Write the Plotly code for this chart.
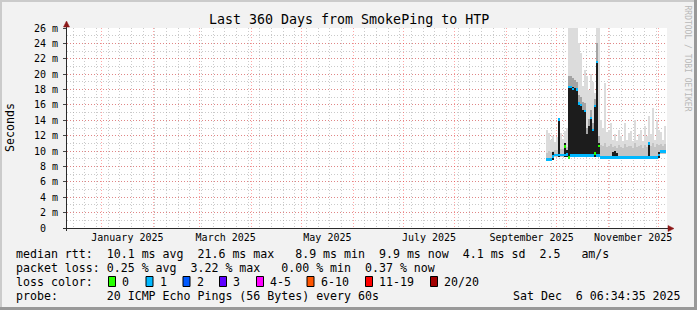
import numpy as np
import pandas as pd
import plotly.graph_objects as go

# ---------------- data ----------------
RANGE_START = "2024-12-11 06:34:35"
RANGE_END = "2025-12-06 06:34:35"
FIRST_BIN_CENTER = "2025-09-25 06:34:35"
BIN_MINUTES = 1728  # 1.2 days per bin

N = None
floor_ms = [8.75, 8.75, 8.75, 8.8, 9.2, 9.2, 9.2, 9.2, 9.2, 9.2,
            9.2, 9.25, 9.25, 9.25, 9.25, 9.25, 9.25, 9.25, 9.25, 9.25,
            9.25, 9.25, 9.25, 9.25, 9.25, 9.25, 9.25, 8.95, 8.95, 8.95,
            8.95, 8.95, 8.95, 8.95, 8.95, 8.95, 8.95, 8.95, 8.95, 8.95,
            8.95, 8.95, 8.95, 8.95, 8.95, 8.95, 8.95, 8.95, 8.95, 8.95,
            8.95, 8.95, 8.95, 8.95, 8.95, 8.95, 9.1, 9.6, 9.6, 9.6]
# highest single pings (thin spikes)
smoke_max_ms = [12.8, 12.4, N, 12.0, N, 11.8, 14.3, 12.4, N, 12.6,
                13.0, 26, 26, 26, 26, 26, 24.0, 22.8, N, 20.6,
                19.8, N, 20.0, 19.0, N, 26, 26, 14.1, 13.0, 18.9,
                12.5, 12.8, 13.7, N, 12.2, N, 12.8, 12.0, N, 13.7,
                N, 12.3, 12.6, N, 14.1, N, 12.2, 12.8, N, 13.3,
                12.0, 14.5, 12.2, 15.6, N, 14.1, 12.8, 12.5, N, 13.3]
# outer smoke envelope
smoke_upper_ms = [11.5, 11.8, 11.5, 11.3, 11.2, 11.0, 12.0, 11.8, 11.6, 11.8,
                  12.0, 21.0, 21.5, 21.0, 20.5, 20.0, 19.5, 19.0, 18.5, 18.5,
                  17.5, 18.0, 18.0, 17.0, 17.5, 23.0, 14.0, 11.8, 11.6, 11.9,
                  11.5, 11.6, 11.8, 11.4, 11.5, 11.3, 11.6, 11.4, 11.3, 11.7,
                  11.4, 11.5, 11.6, 11.3, 11.8, 11.4, 11.5, 11.6, 11.3, 11.6,
                  11.4, 11.9, 11.5, 11.8, 11.4, 11.7, 11.6, 11.7, 11.5, 11.7]
smoke_mid_ms = [9.8, 10.0, 9.9, 10.0, 10.2, 10.2, 10.8, 10.3, 10.3, 10.5,
                10.5, 13.0, 13.0, 13.0, 13.0, 13.0, 12.5, 12.5, 12.0, 12.0,
                11.5, 12.0, 12.0, 11.5, 12.0, 13.0, 12.0, 10.8, 10.6, 11.0,
                10.5, 10.7, 10.9, 10.5, 10.6, 10.4, 10.8, 10.5, 10.4, 10.9,
                10.5, 10.6, 10.7, 10.4, 11.0, 10.5, 10.6, 10.8, 10.4, 10.8,
                10.5, 11.2, 10.6, 11.0, 10.5, 10.9, 10.8, 10.9, 10.7, 10.9]
smoke_dark_ms = [N, N, N, N, N, N, N, N, N, N,
                 N, 19.8, 19.8, 19.5, 19.2, 19.0, 17.3, 17.0, 16.4, 16.2,
                 13.0, 14.2, 15.3, 13.6, 16.8, 24.0, 12.0, N, N, N,
                 N, N, N, N, N, N, N, N, N, N,
                 N, N, N, N, N, N, N, N, N, N,
                 N, N, N, N, N, N, N, N, N, N]
smoke_core_ms = [N, N, N, 9.9, N, N, 14.2, N, N, 11.1,
                 10.2, 18.4, 18.4, 18.3, 18.2, 18.0, 16.3, 16.0, 15.4, 15.2,
                 12.2, 13.2, 14.4, 12.8, 15.9, 21.7, 11.0, N, N, N,
                 N, N, N, 9.9, 10.0, 9.8, N, N, N, N,
                 N, N, N, N, N, N, N, N, N, N,
                 N, 11.1, N, N, N, N, 9.9, N, N, N]
median_ms = [8.9, 8.9, 8.9, 9.3, 9.5, 9.5, 9.5, 9.5, 9.5, 9.5,
             9.6, 9.2, 9.4, 9.4, 9.4, 9.4, 9.4, 9.4, 9.4, 9.4,
             9.4, 9.4, 9.4, 9.4, 9.7, 9.4, 9.4, 9.15, 9.15, 9.15,
             9.15, 9.15, 9.15, 9.15, 9.15, 9.15, 9.15, 9.15, 9.15, 9.15,
             9.15, 9.15, 9.15, 9.15, 9.15, 9.15, 9.15, 9.15, 9.15, 9.15,
             9.15, 9.15, 9.15, 9.15, 9.15, 9.15, 9.5, 9.9, 9.9, 9.9]
median_loss = [1, 1, 1, 1, 1, 1, 1, 1, 1, 1,
               1, 0, 1, 1, 1, 1, 1, 1, 1, 1,
               1, 1, 1, 1, 0, 1, 1, 1, 1, 1,
               1, 1, 1, 1, 1, 1, 1, 1, 1, 1,
               1, 1, 1, 1, 1, 1, 1, 1, 1, 1,
               1, 1, 1, 1, 1, 1, 1, 1, 1, 1]
peak_ms = [N, N, N, N, N, N, 14.1, N, N, 10.6,
           N, 18.3, 18.3, 18.1, N, 18.0, 16.2, 16.0, N, 15.2,
           N, N, 14.3, 12.7, 15.9, 21.6, 10.7, N, N, N,
           N, N, N, N, N, N, N, N, N, N,
           N, N, N, N, N, N, N, N, N, N,
           N, 11.0, N, N, N, N, N, N, N, N]
peak_loss = [1, 1, 1, 1, 1, 1, 1, 1, 1, 0,
             1, 1, 1, 1, 1, 1, 1, 1, 1, 1,
             1, 1, 1, 1, 1, 1, 0, 1, 1, 1,
             1, 1, 1, 1, 1, 1, 1, 1, 1, 1,
             1, 1, 1, 1, 1, 1, 1, 1, 1, 1,
             1, 1, 1, 1, 1, 1, 1, 1, 1, 1]

LOSS_LABELS = ["0", "1", "2", "3", "4-5", "6-10", "11-19", "20/20"]
LOSS_COLORS = ["#26ff00", "#00b8ff", "#0059ff", "#5e00ff", "#ff00ff", "#ff5500", "#ff0000", "#a10000"]

Y_TICKS = [0, 2, 4, 6, 8, 10, 12, 14, 16, 18, 20, 22, 24, 26]
Y_TICK_TEXT = ["0  ", "2 m", "4 m", "6 m", "8 m", "10 m", "12 m", "14 m", "16 m",
               "18 m", "20 m", "22 m", "24 m", "26 m"]
MONTH_LABEL_DATES = ["2025-01-16 12:00", "2025-03-16 12:00", "2025-05-16 12:00",
                     "2025-07-16 12:00", "2025-09-16", "2025-11-16"]

TITLE = "Last 360 Days from SmokePing to HTP"
LEGEND_RTT = "median rtt:  10.1 ms avg  21.6 ms max   8.9 ms min  9.9 ms now  4.1 ms sd  2.5   am/s"
LEGEND_LOSS = "packet loss: 0.25 % avg  3.22 % max   0.00 % min  0.37 % now"
LEGEND_PROBE = "probe:       20 ICMP Echo Pings (56 Bytes) every 60s"
STAMP = "Sat Dec  6 06:34:35 2025"

# ---------------- geometry helpers ----------------
W, H = 697, 310
ML, MR, MT, MB = 67, 30, 28, 82
PW, PH = W - ML - MR, H - MT - MB


def px(x):
    return (x - ML) / PW


def py(y):
    return (H - MB - y) / PH


def nb(s):
    return s.replace(" ", "\u00a0")


MONO = "DejaVu Sans Mono"


def arr(v):
    return np.array([np.nan if a is None else a for a in v], dtype=float)


fl = arr(floor_ms)
times = pd.date_range(FIRST_BIN_CENTER, periods=len(floor_ms), freq=f"{BIN_MINUTES}min")
BW = BIN_MINUTES * 60 * 1000

fig = go.Figure()


def band(top, color, wfrac):
    t = arr(top)
    fig.add_trace(go.Bar(x=times, y=t - fl, base=fl, width=BW * wfrac, marker_color=color,
                         marker_line_width=0, opacity=1, hoverinfo="skip", showlegend=False))


band(smoke_max_ms, "#dcdcdc", 0.5)
band(smoke_upper_ms, "#dcdcdc", 1.04)
band(smoke_mid_ms, "#c4c4c4", 1.04)
band(smoke_dark_ms, "#a4a4a4", 0.8)
band(smoke_core_ms, "#1c1c1c", 0.8)

med = arr(median_ms)
fig.add_trace(go.Bar(x=times, y=np.full(len(med), 0.36), base=med - 0.18, width=BW * 1.04,
                     marker_color=[LOSS_COLORS[i] for i in median_loss], marker_line_width=0,
                     opacity=1, hoverinfo="skip", showlegend=False))
pk = arr(peak_ms)
fig.add_trace(go.Bar(x=times, y=np.where(np.isnan(pk), np.nan, 0.3), base=pk - 0.15, width=BW * 0.8,
                     marker_color=[LOSS_COLORS[i] for i in peak_loss], marker_line_width=0,
                     opacity=1, hoverinfo="skip", showlegend=False))

# dummy trace for label axis
fig.add_trace(go.Scatter(x=[RANGE_START, RANGE_END], y=[None, None], xaxis="x2", yaxis="y",
                         mode="lines", showlegend=False, hoverinfo="skip"))

MAJ = "rgba(255,40,40,0.42)"
MIN = "rgba(150,150,150,0.5)"
DASH = "1px,2px"

fig.update_layout(
    width=W, height=H,
    margin=dict(l=ML, r=MR, t=MT, b=MB, pad=0),
    paper_bgcolor="#f2f2f2", plot_bgcolor="#ffffff",
    barmode="overlay", bargap=0, showlegend=False,
    font=dict(family=MONO, size=10, color="#000000"),
    xaxis=dict(type="date", range=[RANGE_START, RANGE_END], showticklabels=False, ticks="",
               showgrid=True, dtick="M1", tick0="2025-01-01", gridcolor=MAJ, griddash=DASH,
               gridwidth=1, zeroline=False, showline=False,
               minor=dict(dtick=7 * 86400000, tick0="2024-12-15", showgrid=True,
                          gridcolor=MIN, griddash=DASH, gridwidth=1, ticks="")),
    xaxis2=dict(type="date", range=[RANGE_START, RANGE_END], overlaying="x", anchor="y", side="bottom",
                tickvals=MONTH_LABEL_DATES, tickformat="%B %Y", showgrid=False, ticks="",
                ticklabelstandoff=2,
                zeroline=False, showline=False, tickfont=dict(family=MONO, size=10, color="#000")),
    yaxis=dict(range=[0, 26], tickvals=Y_TICKS, ticktext=[nb(t) for t in Y_TICK_TEXT],
               showgrid=True, gridcolor=MAJ, griddash=DASH, gridwidth=1, zeroline=False,
               showline=False, ticks="outside", ticklen=3, tickcolor="#444",
               ticklabelstandoff=3,
               tickfont=dict(family=MONO, size=10, color="#000"),
               minor=dict(dtick=1, showgrid=True, gridcolor=MIN, griddash=DASH, gridwidth=1, ticks="")),
)

shapes = []
# frame
shapes.append(dict(type="rect", xref="paper", yref="paper", x0=px(0), x1=px(W), y0=py(0), y1=py(2),
                   fillcolor="#cbcbcb", line_width=0))
shapes.append(dict(type="rect", xref="paper", yref="paper", x0=px(0), x1=px(2), y0=py(0), y1=py(H),
                   fillcolor="#cbcbcb", line_width=0))
shapes.append(dict(type="rect", xref="paper", yref="paper", x0=px(0), x1=px(W), y0=py(H - 3), y1=py(H),
                   fillcolor="#999999", line_width=0))
shapes.append(dict(type="rect", xref="paper", yref="paper", x0=px(W - 3), x1=px(W), y0=py(0), y1=py(H),
                   fillcolor="#999999", line_width=0))
# axes lines
shapes.append(dict(type="line", xref="paper", yref="paper", x0=px(63), x1=px(669), y0=py(228.5), y1=py(228.5),
                   line=dict(color="#2a2a2a", width=1)))
shapes.append(dict(type="line", xref="paper", yref="paper", x0=px(66.5), x1=px(66.5), y0=py(231), y1=py(24),
                   line=dict(color="#2a2a2a", width=1)))
# arrows
ARROW = "#8c1818"
shapes.append(dict(type="path", xref="paper", yref="paper",
                   path=f"M {px(63.5)} {py(27)} L {px(69.5)} {py(27)} L {px(66.5)} {py(21)} Z",
                   fillcolor=ARROW, line=dict(color=ARROW, width=0.5)))
shapes.append(dict(type="path", xref="paper", yref="paper",
                   path=f"M {px(668)} {py(225.5)} L {px(668)} {py(231.5)} L {px(674)} {py(228.5)} Z",
                   fillcolor=ARROW, line=dict(color=ARROW, width=0.5)))

annotations = []


def text(x, y, s, size, xanchor="left", angle=0, color="#000000"):
    annotations.append(dict(xref="paper", yref="paper", x=px(x), y=py(y), text=nb(s), showarrow=False,
                            xanchor=xanchor, yanchor="middle", textangle=angle, borderpad=0, borderwidth=0,
                            font=dict(family=MONO, size=size, color=color)))


text(348.5, 19, TITLE, 13.3, xanchor="center")
text(10, 128, "Seconds", 11.6, xanchor="center", angle=-90)
text(687.5, 58, "RRDTOOL / TOBI OETIKER", 8, xanchor="center", angle=90, color="#b8b8b8")
text(15.5, 254, LEGEND_RTT, 11.6)
text(15.5, 268, LEGEND_LOSS, 11.6)
text(15.5, 282, "loss color:", 11.6)
text(15.5, 296, LEGEND_PROBE, 11.6)
text(681, 296, STAMP, 11.6, xanchor="right")

BOX_X = [108, 145.5, 182.5, 219, 256, 306.5, 365, 430]
for bx, lab, col in zip(BOX_X, LOSS_LABELS, LOSS_COLORS):
    shapes.append(dict(type="rect", xref="paper", yref="paper", x0=px(bx + 0.5), x1=px(bx + 7.5),
                       y0=py(286.5), y1=py(276.5), fillcolor=col, line=dict(color="#000000", width=1)))
    text(bx + 14, 282, lab, 11.6)

fig.update_layout(shapes=shapes, annotations=annotations)
fig.write_html("out.html")
